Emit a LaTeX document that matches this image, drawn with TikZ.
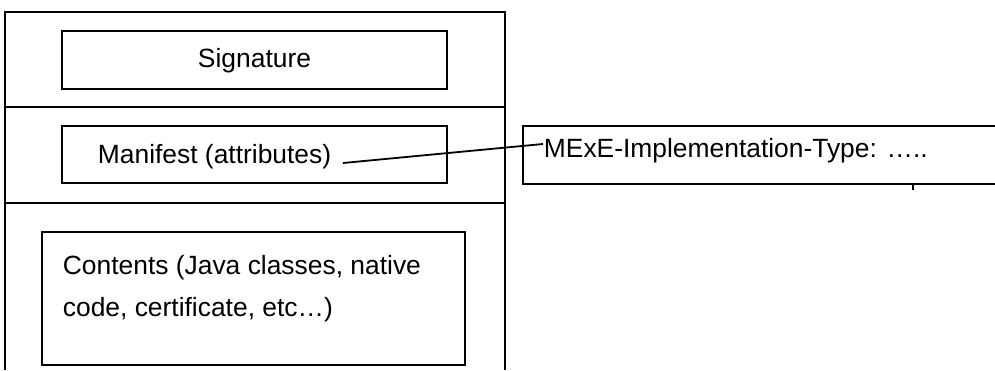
\documentclass[tikz,border=0pt]{standalone}
\usepackage{fontspec}
\setmainfont{Liberation Sans}
\usepackage{tikz}
\usetikzlibrary{positioning}

\begin{document}
\begin{tikzpicture}[
    x=0.5pt, y=-0.5pt,
    every path/.style={line width=0.9pt},
    box/.style={draw, inner sep=0pt},
    txt/.style={inner sep=0pt, font=\fontsize{13.2}{21}\selectfont},
    ]
    \useasboundingbox (0,0) rectangle (995,370);
    % jar outline, cut off at the bottom
    \draw (5,370) -- (5,12) -- (505,12) -- (505,370);
    \draw (5,107) -- (505,107);
    \draw (5,203) -- (505,203);
    \node[box, minimum width=192.5pt, minimum height=29pt] (sig) at (254.5,60) {};
    \node[txt] (sigtxt) at (254.5,61) {Signature};
    \node[box, minimum width=192.5pt, minimum height=28.5pt] (man) at (254.5,154.5) {};
    \node[txt, anchor=west] (mantxt) at (97,157) {Manifest (attributes)};
    \node[box, minimum width=211.5pt, minimum height=66.5pt] (cont) at (253.5,298.5) {};
    \node[txt, anchor=north west, align=left] (conttxt) at (62,254)
        {Contents (Java classes, native\\code, certificate, etc…)};
    % attribute box, cut off at the right
    \draw (995,126) -- (523,126) -- (523,184) -- (995,184);
    \draw (913,184) -- (913,190);
    \node[txt, anchor=west] (mexe) at (543,151) {MExE-Implementation-Type: …..};
    \coordinate (from) at (343,163);
    \coordinate (to) at (543,144);
    \draw (from) -- (to);
  \end{tikzpicture}
\end{document}
